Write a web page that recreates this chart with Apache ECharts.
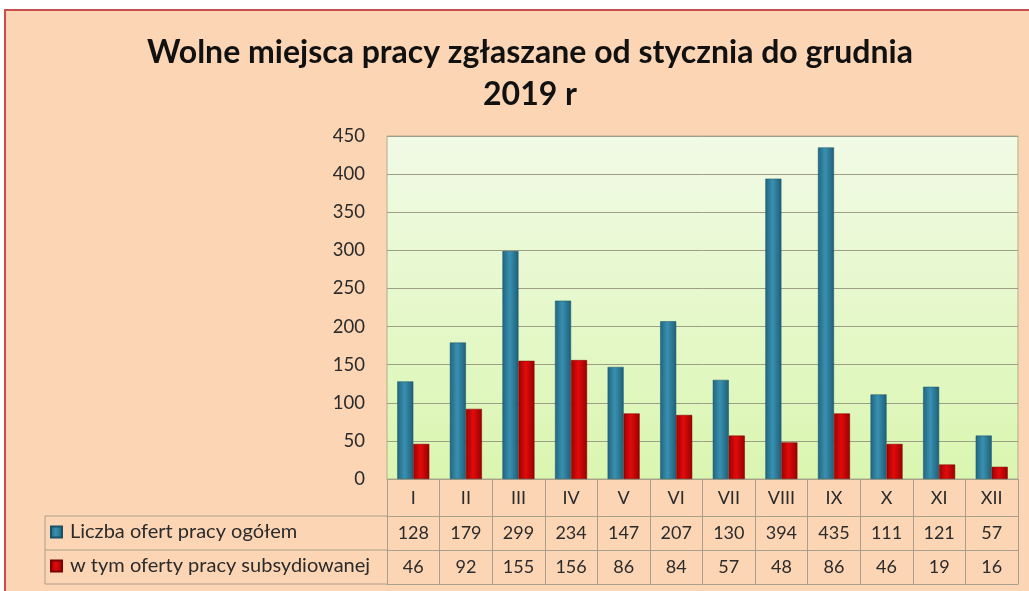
<!DOCTYPE html>
<html>
<head>
<meta charset="utf-8">
<script src="https://cdn.jsdelivr.net/npm/echarts@6/dist/echarts.min.js"></script>
<style>
  html, body { margin: 0; padding: 0; background: #fff; }
  #chart { width: 1029px; height: 591px; }
</style>
</head>
<body>
<div id="chart"></div>
<script>
const months = ['I', 'II', 'III', 'IV', 'V', 'VI', 'VII', 'VIII', 'IX', 'X', 'XI', 'XII']
const totalOffers = [128, 179, 299, 234, 147, 207, 130, 394, 435, 111, 121, 57]
const subsidisedOffers = [46, 92, 155, 156, 86, 84, 57, 48, 86, 46, 19, 16]
const seriesNames = ['Liczba ofert pracy ogółem', 'w tym oferty pracy subsydiowanej']
const yTicks = [0, 50, 100, 150, 200, 250, 300, 350, 400, 450]

const font = 'Lato, "Open Sans", sans-serif'
const lineColor = '#a8a08c'
const textColor = '#2b2b2b'

const chart = echarts.init(document.getElementById('chart'))

const blueGrad = new echarts.graphic.LinearGradient(0, 0, 1, 0, [
  { offset: 0, color: '#1f6680' },
  { offset: 0.45, color: '#3a90b0' },
  { offset: 1, color: '#1d5f78' },
])
const redGrad = new echarts.graphic.LinearGradient(0, 0, 1, 0, [
  { offset: 0, color: '#a00000' },
  { offset: 0.45, color: '#e10b0b' },
  { offset: 1, color: '#990000' },
])

// x axes: one for month names, one per table row (line drawn at the top of each row)
const tableAxis = (offset, data, showLabel) => ({
  type: 'category',
  gridIndex: 0,
  position: 'bottom',
  offset: offset,
  data: data,
  axisLine: { show: true, lineStyle: { color: lineColor, width: 1 } },
  axisTick: { show: false },
  axisLabel: { show: showLabel, interval: 0, margin: 8, fontSize: 18, fontFamily: font, color: textColor },
})

const legendText = { fontSize: 20, fontFamily: font, color: textColor, padding: [0, 0, 0, 3] }

const option = {
  backgroundColor: '#ffffff',
  animation: false,
  title: {
    text: 'Wolne miejsca pracy zgłaszane od stycznia do grudnia\n2019 r',
    left: 525,
    top: 27,
    textAlign: 'center',
    textStyle: { fontSize: 32, fontWeight: 'bold', fontFamily: font, color: '#111', lineHeight: 42 },
  },
  legend: [
    {
      data: [seriesNames[0]],
      left: 50, top: 522, padding: 0,
      icon: 'rect', itemWidth: 11, itemHeight: 11, itemGap: 0,
      textStyle: legendText,
    },
    {
      data: [seriesNames[1]],
      left: 50, top: 556, padding: 0,
      icon: 'rect', itemWidth: 11, itemHeight: 11, itemGap: 0,
      textStyle: legendText,
    },
  ],
  grid: {
    left: 387, right: 11, top: 136, bottom: 112,
    show: true,
    borderColor: '#b3ad8a',
    borderWidth: 1,
    backgroundColor: new echarts.graphic.LinearGradient(0, 0, 0, 1, [
      { offset: 0, color: '#f1fae6' },
      { offset: 1, color: '#daf6b0' },
    ]),
  },
  xAxis: [
    {
      type: 'category',
      data: months,
      position: 'bottom',
      axisLine: { show: true, lineStyle: { color: lineColor } },
      axisTick: { show: true, interval: 0, length: 105, lineStyle: { color: lineColor } },
      axisLabel: { interval: 0, margin: 10, fontSize: 18, fontFamily: font, color: textColor },
    },
    tableAxis(37, totalOffers.map(String), true),
    tableAxis(71, subsidisedOffers.map(String), true),
    tableAxis(105, months, false),
  ],
  yAxis: {
    type: 'value',
    min: yTicks[0],
    max: yTicks[yTicks.length - 1],
    interval: 50,
    axisLine: { show: false },
    axisTick: { show: false },
    axisLabel: { margin: 22, fontSize: 18.5, fontFamily: font, color: textColor },
    splitLine: { lineStyle: { color: '#9e9e86', width: 1 } },
  },
  series: [
    {
      name: seriesNames[0],
      type: 'bar',
      data: totalOffers,
      barWidth: 16,
      barGap: '0%',
      itemStyle: { color: blueGrad, borderColor: '#1b5166', borderWidth: 0.5 },
    },
    {
      name: seriesNames[1],
      type: 'bar',
      data: subsidisedOffers,
      barWidth: 16,
      itemStyle: { color: redGrad, borderColor: '#7a0000', borderWidth: 0.5 },
    },
  ],
  graphic: [
    // chart frame
    {
      type: 'rect', z: -10, silent: true,
      shape: { x: 5, y: 10, width: 1040, height: 600 },
      style: { fill: '#fcd5b5', stroke: '#c9504f', lineWidth: 2 },
    },
    // left part of the data table (legend cells)
    { type: 'line', shape: { x1: 45, y1: 516, x2: 387, y2: 516 }, style: { stroke: lineColor, lineWidth: 1 } },
    { type: 'line', shape: { x1: 45, y1: 550, x2: 387, y2: 550 }, style: { stroke: lineColor, lineWidth: 1 } },
    { type: 'line', shape: { x1: 45, y1: 584, x2: 387, y2: 584 }, style: { stroke: lineColor, lineWidth: 1 } },
    { type: 'line', shape: { x1: 45, y1: 516, x2: 45, y2: 584 }, style: { stroke: lineColor, lineWidth: 1 } },
  ],
}

chart.setOption(option)
</script>
</body>
</html>
